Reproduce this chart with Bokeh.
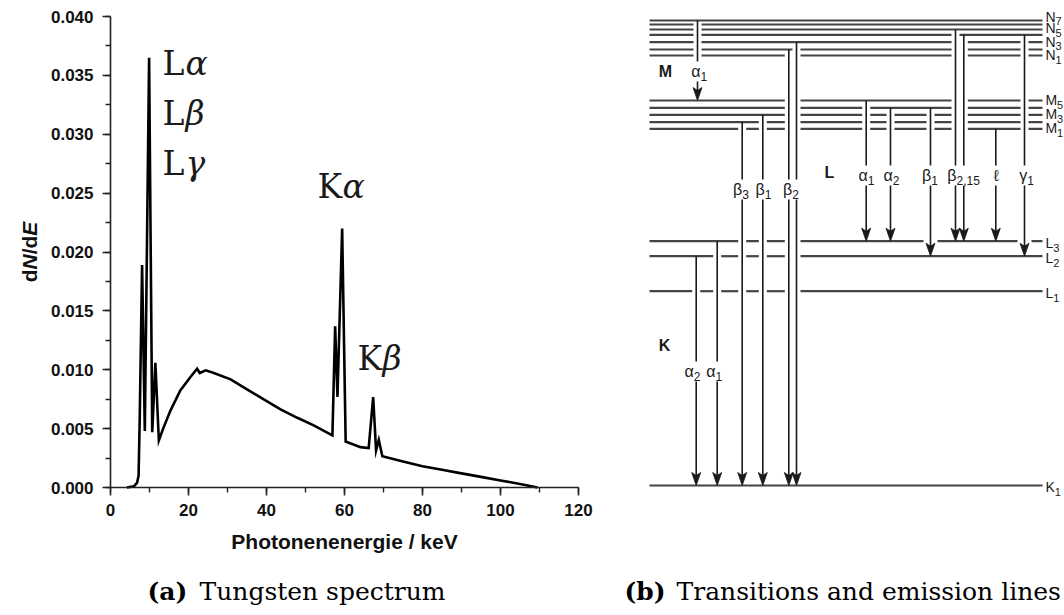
from bokeh.plotting import figure
from bokeh.models import (Range1d, SingleIntervalTicker, NumeralTickFormatter,
                          ColumnDataSource)
from bokeh.embed import file_html
from bokeh.resources import INLINE
from bokeh.core.properties import value

# ---------------- tungsten spectrum ----------------
energy_kev = [4.2, 6.0, 6.8, 7.2, 7.5, 8.1, 8.8, 9.9, 10.7, 11.5, 12.4, 13.5,
              15.4, 17.9, 20.5, 22.2, 22.9, 24.4, 26.5, 30.8, 35.0, 39.3, 43.6,
              47.9, 52.1, 56.9, 57.6, 58.2, 59.4, 60.3, 64.1, 66.2, 67.35, 68.1,
              68.8, 69.7, 75.0, 80.0, 85.0, 90.0, 95.0, 100.0, 105.0, 109.5]
dn_de = [0.0, 0.0001, 0.0004, 0.0010, 0.0060, 0.0189, 0.0048, 0.0365, 0.0047,
         0.0106, 0.0040, 0.0050, 0.00655, 0.00825, 0.00938, 0.01009, 0.00972,
         0.00995, 0.00972, 0.00918, 0.00833, 0.00748, 0.00663, 0.00592, 0.00527,
         0.00442, 0.0137, 0.0077, 0.0220, 0.00390, 0.00343, 0.00335, 0.00768,
         0.00315, 0.00405, 0.00265, 0.0022, 0.0018, 0.0015, 0.0012, 0.0009,
         0.0006, 0.0003, 0.0]

x_tick_step = 20
y_tick_step = 0.005
x_axis_max = 120
y_axis_max = 0.04

# ---------------- level scheme ----------------
level_names = ["N7", "N6", "N5", "N4", "N3", "N2", "N1",
               "M5", "M4", "M3", "M2", "M1",
               "L3", "L2", "L1", "K1"]
level_y = [20, 24, 29, 34.3, 41.7, 49, 55,
           100, 107.3, 114.3, 121.7, 128.3,
           240.7, 255.7, 290.7, 485]

tr_x = [697, 695.7, 716.7, 741.7, 762.3, 788.3, 796,
        865.7, 890, 930, 955, 963.3, 995.3, 1024]
tr_from = ["N7", "L2", "L3", "M2", "M3", "N2", "N3",
           "M5", "M4", "M4", "N5", "N4", "M1", "N4"]
tr_to = ["M5", "K1", "K1", "K1", "K1", "K1", "K1",
         "L3", "L3", "L2", "L3", "L3", "L3", "L2"]
tr_label_y = [71, 371, 371, 189, 189, 189, 189,
              175, 175, 175, 175, 175, 175, 175]

line_base = ["α", "α", "α", "β", "β", "β", "α", "α", "β", "β", "ℓ", "γ"]
line_sub = ["1", "2", "1", "3", "1", "2", "1", "2", "1", "2,15", "", "1"]
line_lab_x = [700, 693.3, 715, 741.7, 764.3, 791.7,
              867.3, 892.3, 930.7, 956, 998.5, 1026.7]
line_lab_y = [71, 371, 371, 189, 189, 189, 175, 175, 175, 175, 175, 175]

lev_lab_base = ["N", "N", "N", "N", "M", "M", "M", "L", "L", "L", "K"]
lev_lab_sub = ["7", "5", "3", "1", "5", "3", "1", "3", "2", "1", "1"]
lev_lab_y = [16.2, 27.8, 41.2, 54.5, 99.5, 113.7, 127.8,
             242.8, 257.8, 292.8, 486.7]

shell_names = ["M", "L", "K"]
shell_x = [665, 829, 664]
shell_y = [71, 172, 345]

SANS = "Liberation Sans"
SERIF = "DejaVu Serif"
W, H = 1064, 615

# spectrum panel placement on the page (pixels)
ORG_X, ORG_Y = 110, 487          # where 0 keV / 0.000 sit
PX_PER_KEV = 3.9
PX_PER_VAL = 471 / 0.04


def kev(px):
    return (px - ORG_X) / PX_PER_KEV


def val(py):
    return (ORG_Y - py) / PX_PER_VAL


p = figure(width=W, height=H,
           x_range=Range1d(kev(0), kev(W)), y_range=Range1d(val(H), val(0)),
           output_backend="svg", toolbar_location=None, min_border=0)
p.outline_line_color = None
p.grid.visible = False
p.background_fill_color = "white"
p.border_fill_color = "white"
p.extra_x_ranges = {"px": Range1d(0, W)}
p.extra_y_ranges = {"py": Range1d(H, 0)}

# ================= spectrum =================
p.line(energy_kev, dn_de, line_color="black", line_width=2.6, line_join="miter")

p.xaxis.ticker = SingleIntervalTicker(interval=x_tick_step, num_minor_ticks=2)
p.yaxis.ticker = SingleIntervalTicker(interval=y_tick_step, num_minor_ticks=2)
p.yaxis.formatter = NumeralTickFormatter(format="0.000")
p.xaxis.fixed_location = 0
p.yaxis.fixed_location = 0
p.xaxis.bounds = (0, x_axis_max)
p.yaxis.bounds = (0, y_axis_max * 1.0005)
for ax in (p.xaxis[0], p.yaxis[0]):
    ax.axis_line_color = "#222222"
    ax.axis_line_width = 1.6
    ax.major_tick_line_color = "#222222"
    ax.major_tick_line_width = 1.6
    ax.minor_tick_line_color = "#222222"
    ax.minor_tick_line_width = 1.4
    ax.major_tick_in = 0
    ax.major_tick_out = 8
    ax.minor_tick_in = 0
    ax.minor_tick_out = 5
    ax.major_label_text_font = SANS
    ax.major_label_text_font_style = "bold"
    ax.major_label_text_font_size = "17px"
    ax.major_label_text_color = "#111111"
p.xaxis.major_label_standoff = 8
p.yaxis.major_label_standoff = 9

# x axis title
p.text(x=[x_axis_max / 2], y=[val(541)], text=["Photonenenergie / keV"],
       text_align="center", text_baseline="middle", text_font=value(SANS),
       text_font_style="bold", text_font_size=value("21px"), text_color="#111111")

# y axis title dN/dE, written piecewise so that N and E are italic
ylab_text = ["d", "N", "/", "d", "E"]
ylab_style = ["bold", "bold italic", "bold", "bold", "bold italic"]
ylab_w = [12.8, 15.2, 5.8, 12.8, 14.0]
pos = 251.5 + sum(ylab_w) / 2
ylab_y = []
for w in ylab_w:
    ylab_y.append(val(pos))
    pos -= w
for t, s, yy in zip(ylab_text, ylab_style, ylab_y):
    p.text(x=[kev(29)], y=[yy], text=[t], angle=1.5707963, text_align="left",
           text_baseline="middle", text_font=value(SANS), text_font_style=s,
           text_font_size=value("21px"), text_color="#111111")

# emission line names beside the peaks
def line_name(px, py, main, greek, gap):
    p.text(x=[kev(px)], y=[val(py)], text=[main], text_align="left",
           text_baseline="middle", text_font=value(SERIF),
           text_font_size=value("33px"), text_color="#1a1a1a")
    p.text(x=[kev(px + gap)], y=[val(py)], text=[greek], text_align="left",
           text_baseline="middle", text_font=value(SERIF), text_font_style="italic",
           text_font_size=value("33px"), text_color="#1a1a1a")


line_name(162, 63, "L", "α", 23)
line_name(162, 113, "L", "β", 23)
line_name(162, 163, "L", "γ", 23)
line_name(317, 186, "K", "α", 25)
line_name(357, 358, "K", "β", 25)

# ================= level scheme (page-pixel coordinates) =================
R = dict(x_range_name="px", y_range_name="py")
lvl = dict(zip(level_names, level_y))
x_left, x_right = 649, 1042

# horizontal level lines, interrupted where a transition passes through
hx0, hy0, hx1, hy1 = [], [], [], []
for name in level_names:
    y = lvl[name]
    gaps = []
    for x, f, t in zip(tr_x, tr_from, tr_to):
        if lvl[f] < y < lvl[t]:
            h = 7 if (name == "L3" and t == "L2") else 4
            gaps.append([x - h, x + h])
    gaps.sort()
    merged = []
    for g in gaps:
        if merged and g[0] <= merged[-1][1] + 1:
            merged[-1][1] = max(merged[-1][1], g[1])
        else:
            merged.append(list(g))
    s = x_left
    for a, b in merged:
        hx0.append(s); hx1.append(a); hy0.append(y); hy1.append(y)
        s = b
    hx0.append(s); hx1.append(x_right); hy0.append(y); hy1.append(y)

p.segment(hx0, hy0, hx1, hy1, line_color="#444444", line_width=2.2, **R)

# transitions: a line down to the label, then an arrow to the lower level
vx0, vy0, vx1, vy1 = [], [], [], []
head_xs, head_ys = [], []
for x, f, t, gy in zip(tr_x, tr_from, tr_to, tr_label_y):
    vx0 += [x, x]
    vx1 += [x, x]
    vy0 += [lvl[f], gy + 10]
    vy1 += [gy - 10, lvl[t] - 8]
    tip = lvl[t]
    head_xs.append([x - 4.5, x, x + 4.5, x])
    head_ys.append([tip - 13, tip, tip - 13, tip - 10])

p.segment(vx0, vy0, vx1, vy1, line_color="#1a1a1a", line_width=1.6, **R)
p.patches(head_xs, head_ys, fill_color="#1a1a1a", line_color="#1a1a1a",
          line_width=0.8, **R)

# transition labels
lab_src = ColumnDataSource(dict(x=line_lab_x, y=line_lab_y, base=line_base,
                                sub=line_sub, sy=[v + 5 for v in line_lab_y]))
p.text(x="x", y="y", text="base", source=lab_src, text_align="right",
       text_baseline="middle", text_font=value(SANS), text_font_size=value("16px"),
       text_color="#1a1a1a", **R)
p.text(x="x", y="sy", text="sub", source=lab_src, text_align="left",
       text_baseline="middle", text_font=value(SANS), text_font_size=value("12px"),
       text_color="#1a1a1a", **R)

# level names at the right edge
sub_shift = {"N": 10.0, "M": 11.6, "L": 7.8, "K": 9.2}
lev_src = ColumnDataSource(dict(
    x=[1045] * len(lev_lab_base), y=lev_lab_y, base=lev_lab_base, sub=lev_lab_sub,
    sx=[1045 + sub_shift[b] for b in lev_lab_base], sy=[v + 4.5 for v in lev_lab_y]))
p.text(x="x", y="y", text="base", source=lev_src, text_align="left",
       text_baseline="middle", text_font=value(SANS), text_font_size=value("14px"),
       text_color="#1a1a1a", **R)
p.text(x="sx", y="sy", text="sub", source=lev_src, text_align="left",
       text_baseline="middle", text_font=value(SANS), text_font_size=value("11px"),
       text_color="#1a1a1a", **R)

# shell names
p.text(x=shell_x, y=shell_y, text=shell_names, text_align="center",
       text_baseline="middle", text_font=value(SANS), text_font_style="bold",
       text_font_size=value("16px"), text_color="#1a1a1a", **R)

# ================= captions =================
p.text(x=[147, 624], y=[591, 591], text=["(a)", "(b)"], text_align="left",
       text_baseline="middle", text_font=value(SERIF), text_font_style="bold",
       text_font_size=value("25px"), text_color="black", **R)
p.text(x=[147 + 52, 624 + 52], y=[591, 591],
       text=["Tungsten spectrum", "Transitions and emission lines"],
       text_align="left", text_baseline="middle", text_font=value(SERIF),
       text_font_size=value("25px"), text_color="black", **R)

open("out.html", "w").write(file_html(p, INLINE))
